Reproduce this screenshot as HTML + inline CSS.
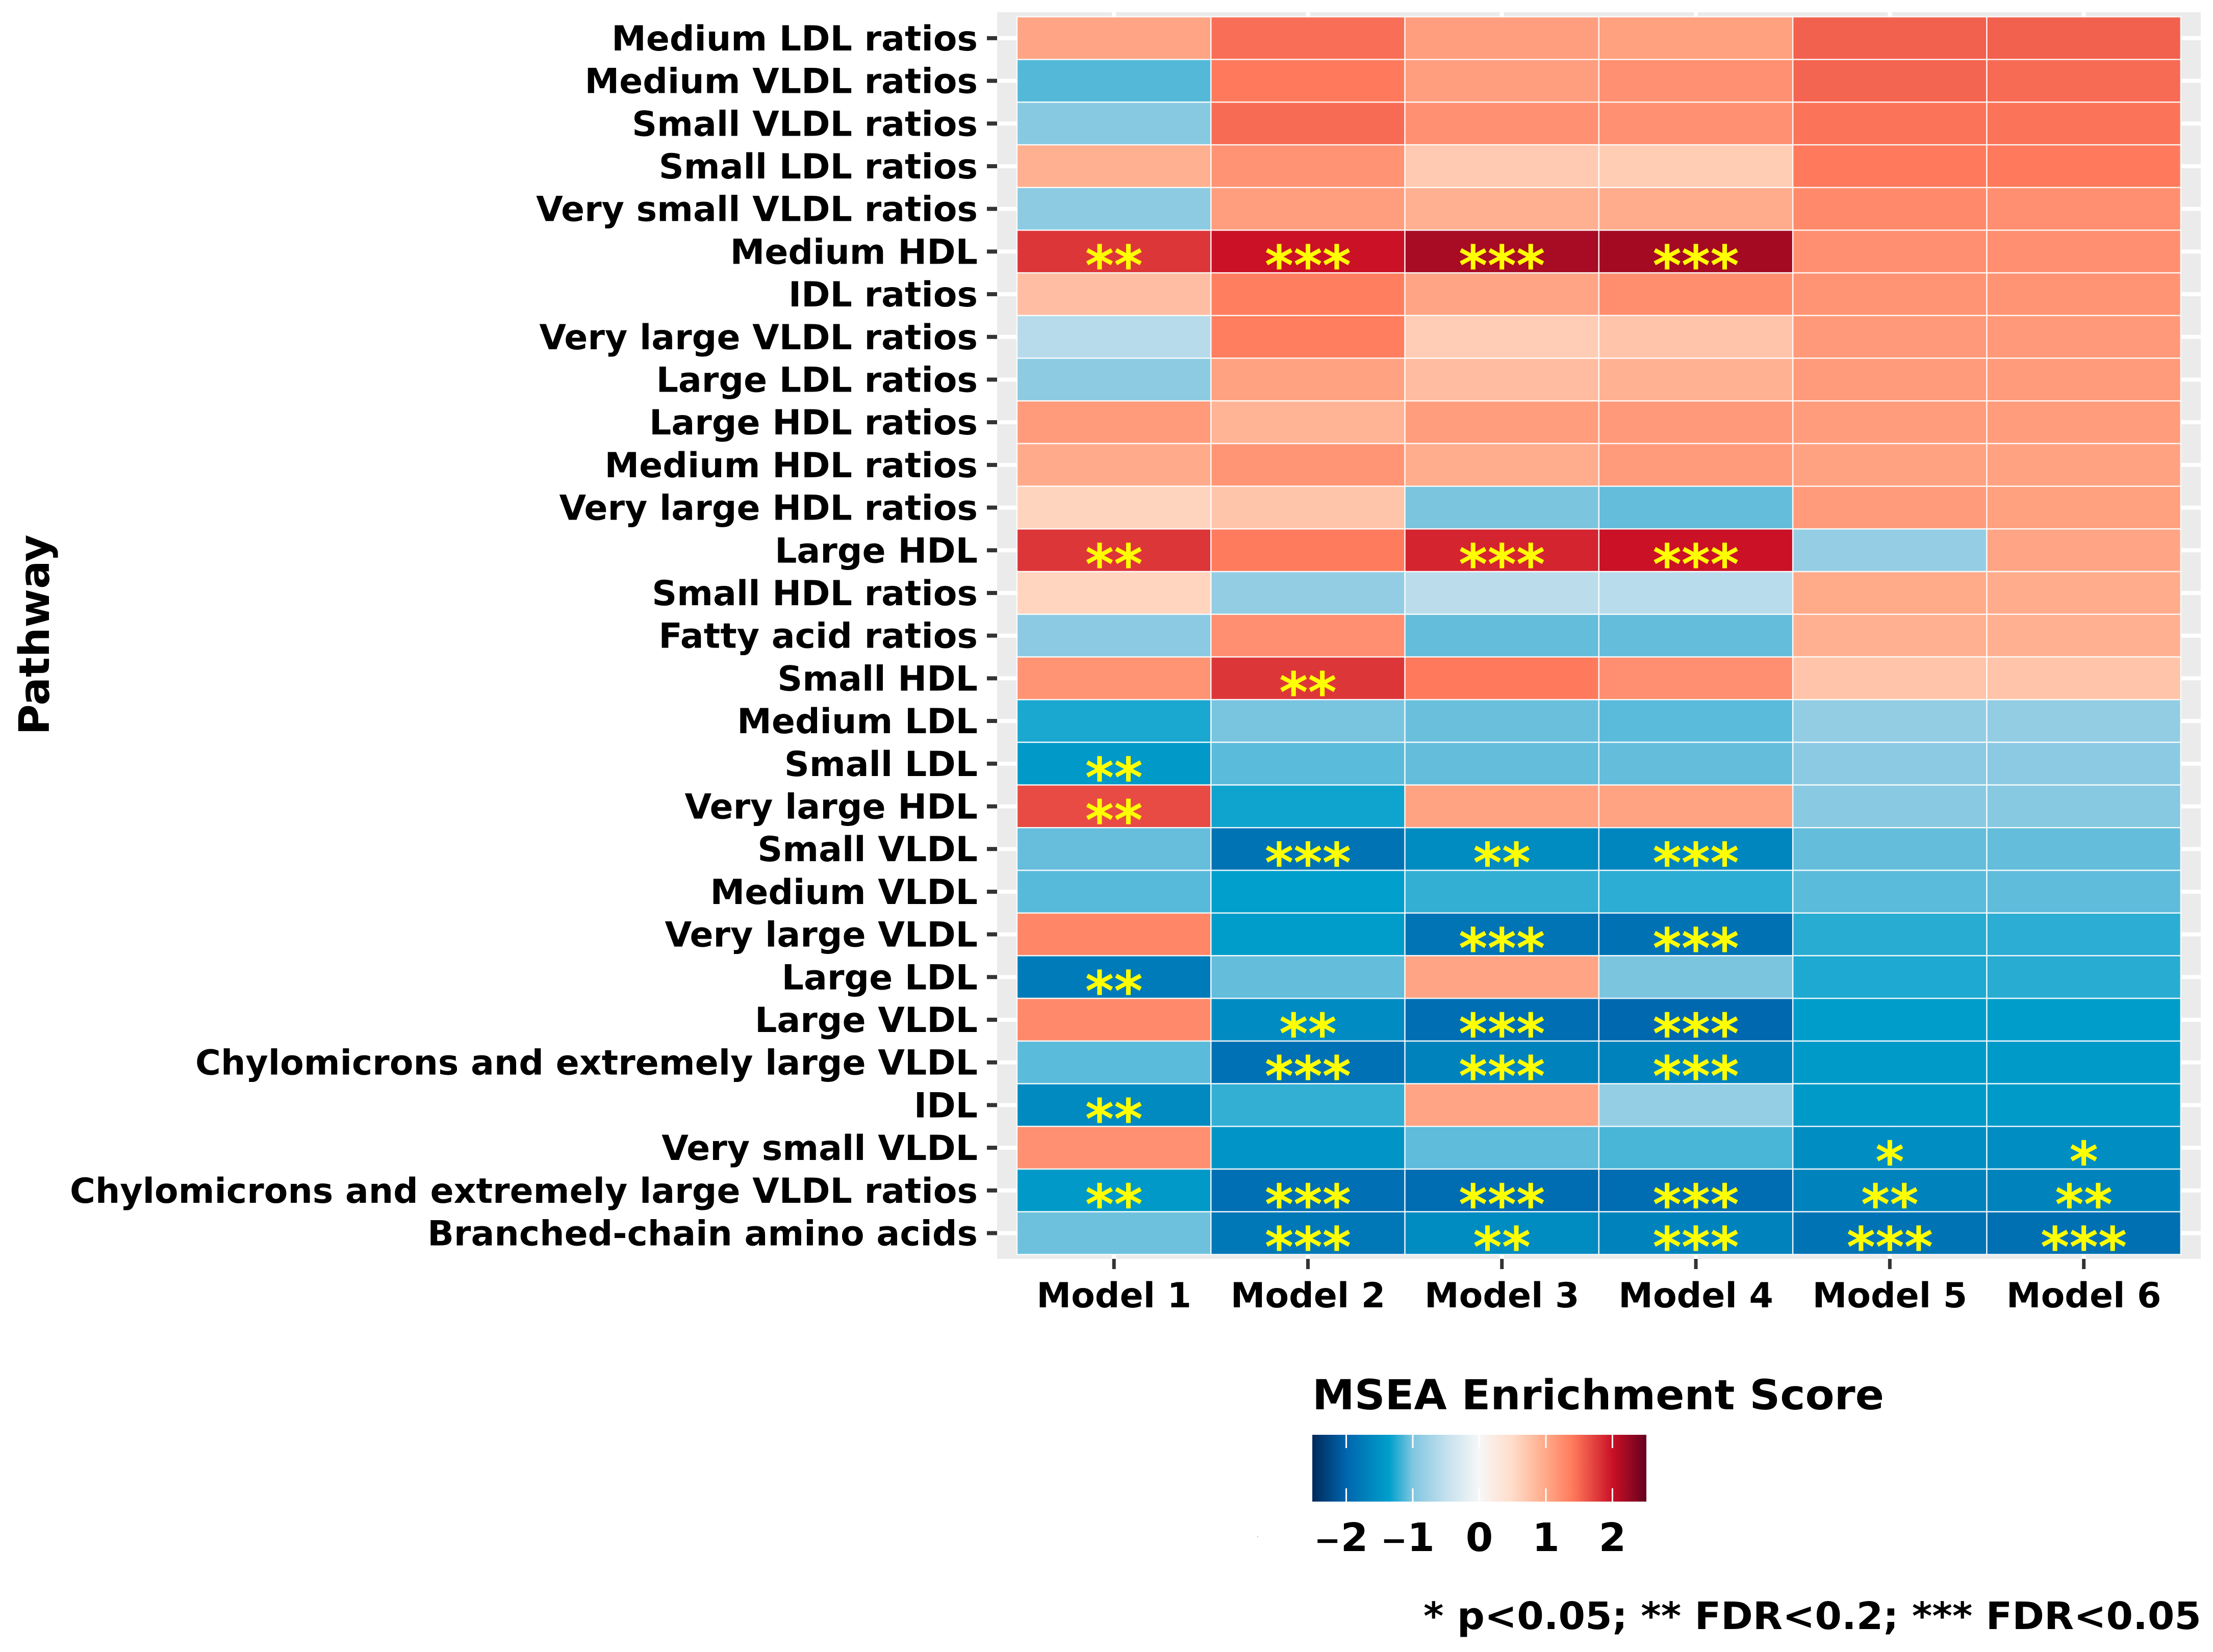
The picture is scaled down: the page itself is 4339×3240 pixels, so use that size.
<!DOCTYPE html>
<html lang="en">
<head>
<meta charset="utf-8">
<title>MSEA Enrichment Heatmap</title>
<style>
  html, body { margin: 0; padding: 0; background: #ffffff; }
  svg { display: block; }
  text { font-family: "DejaVu Sans", "Liberation Sans", sans-serif; font-weight: 700; fill: #000000; }
</style>
</head>
<body>
<svg id="chart" xmlns="http://www.w3.org/2000/svg" width="4339" height="3240" viewBox="0 0 4339 3240">
  <defs>
    <linearGradient id="legend-gradient" x1="0" y1="0" x2="1" y2="0"></linearGradient>
  </defs>
  <rect x="0" y="0" width="4339" height="3240" fill="#ffffff"/>
  <rect x="1955" y="24" width="2360" height="2445" fill="#ebebeb"/>
  <g id="grid"></g>
  <g id="cells"></g>
  <g id="stars"></g>
  <g id="y-axis"></g>
  <g id="x-axis"></g>
  <text transform="translate(96,1245) rotate(-90)" text-anchor="middle" font-size="82">Pathway</text>
  <g id="legend">
    <text x="2573" y="2764" font-size="81" textLength="1121" lengthAdjust="spacingAndGlyphs">MSEA Enrichment Score</text>
    <rect x="2573" y="2814" width="655" height="131" fill="url(#legend-gradient)"/>
  </g>
  <rect x="2465" y="3013" width="1.5" height="1.5" fill="#999999"/>
  <text x="4316" y="3195" text-anchor="end" font-size="74" textLength="1525" lengthAdjust="spacingAndGlyphs">* p&lt;0.05; ** FDR&lt;0.2; *** FDR&lt;0.05</text>
</svg>
<script>
const pathways = [
  "Medium LDL ratios", "Medium VLDL ratios", "Small VLDL ratios", "Small LDL ratios",
  "Very small VLDL ratios", "Medium HDL", "IDL ratios", "Very large VLDL ratios",
  "Large LDL ratios", "Large HDL ratios", "Medium HDL ratios", "Very large HDL ratios",
  "Large HDL", "Small HDL ratios", "Fatty acid ratios", "Small HDL", "Medium LDL",
  "Small LDL", "Very large HDL", "Small VLDL", "Medium VLDL", "Very large VLDL",
  "Large LDL", "Large VLDL", "Chylomicrons and extremely large VLDL", "IDL",
  "Very small VLDL", "Chylomicrons and extremely large VLDL ratios", "Branched-chain amino acids"
];
const models = ["Model 1", "Model 2", "Model 3", "Model 4", "Model 5", "Model 6"];
const enrichmentScores = [
  [1.03, 1.47, 1.09, 1.08, 1.55, 1.55],
  [-1.12, 1.40, 1.09, 1.21, 1.52, 1.49],
  [-0.94, 1.49, 1.21, 1.21, 1.44, 1.44],
  [0.93, 1.19, 0.68, 0.66, 1.40, 1.40],
  [-0.91, 1.09, 0.93, 0.97, 1.26, 1.22],
  [1.79, 2.00, 2.17, 2.19, 1.22, 1.22],
  [0.79, 1.37, 1.03, 1.23, 1.18, 1.18],
  [-0.59, 1.37, 0.65, 0.74, 1.14, 1.14],
  [-0.91, 1.06, 0.81, 0.92, 1.13, 1.13],
  [1.12, 0.89, 1.10, 1.14, 1.11, 1.11],
  [0.98, 1.17, 0.96, 1.12, 1.06, 1.06],
  [0.58, 0.73, -1.01, -1.08, 1.12, 1.08],
  [1.79, 1.39, 1.89, 2.00, -0.84, 1.03],
  [0.57, -0.86, -0.56, -0.58, 0.99, 0.97],
  [-0.92, 1.22, -1.08, -1.08, 0.93, 0.93],
  [1.18, 1.79, 1.40, 1.22, 0.74, 0.74],
  [-1.28, -1.02, -1.06, -1.10, -0.86, -0.86],
  [-1.43, -1.10, -1.08, -1.08, -0.92, -0.92],
  [1.67, -1.31, 1.05, 1.05, -0.93, -0.95],
  [-1.07, -1.85, -1.58, -1.64, -1.08, -1.08],
  [-1.11, -1.36, -1.21, -1.23, -1.10, -1.09],
  [1.29, -1.38, -1.84, -1.87, -1.24, -1.23],
  [-1.76, -1.08, 1.03, -1.01, -1.27, -1.24],
  [1.26, -1.57, -1.91, -1.98, -1.38, -1.38],
  [-1.10, -1.88, -1.68, -1.67, -1.42, -1.42],
  [-1.60, -1.21, 1.03, -0.85, -1.42, -1.42],
  [1.21, -1.47, -1.09, -1.15, -1.56, -1.56],
  [-1.43, -1.90, -1.93, -1.93, -1.69, -1.67],
  [-1.05, -1.80, -1.58, -1.67, -1.85, -1.89]
];
const significanceStars = [
  [0, 0, 0, 0, 0, 0],
  [0, 0, 0, 0, 0, 0],
  [0, 0, 0, 0, 0, 0],
  [0, 0, 0, 0, 0, 0],
  [0, 0, 0, 0, 0, 0],
  [2, 3, 3, 3, 0, 0],
  [0, 0, 0, 0, 0, 0],
  [0, 0, 0, 0, 0, 0],
  [0, 0, 0, 0, 0, 0],
  [0, 0, 0, 0, 0, 0],
  [0, 0, 0, 0, 0, 0],
  [0, 0, 0, 0, 0, 0],
  [2, 0, 3, 3, 0, 0],
  [0, 0, 0, 0, 0, 0],
  [0, 0, 0, 0, 0, 0],
  [0, 2, 0, 0, 0, 0],
  [0, 0, 0, 0, 0, 0],
  [2, 0, 0, 0, 0, 0],
  [2, 0, 0, 0, 0, 0],
  [0, 3, 2, 3, 0, 0],
  [0, 0, 0, 0, 0, 0],
  [0, 0, 3, 3, 0, 0],
  [2, 0, 0, 0, 0, 0],
  [0, 2, 3, 3, 0, 0],
  [0, 3, 3, 3, 0, 0],
  [2, 0, 0, 0, 0, 0],
  [0, 0, 0, 0, 1, 1],
  [2, 3, 3, 3, 2, 2],
  [0, 3, 2, 3, 3, 3]
];
const legendTicks = [-2, -1, 0, 1, 2];
const colorScaleValues = [-2.5, -2, -1.35, -1, -0.5, 0, 0.5, 1, 1.4, 2, 2.5];
const colorScaleColors = ["#002a5c", "#0066ae", "#00a0cc", "#80c6e0", "#c3e0ed", "#f7f7f7", "#ffdcc8", "#ffa988", "#ff7a5c", "#ca1126", "#67001f"];

const SVG_NS = "http://www.w3.org/2000/svg";
const cellLeft = 1994, cellWidth = 380.3, cellTop = 33, cellHeight = 83.7;
const legendLeft = 2573, legendWidth = 655, legendTop = 2814, legendHeight = 131;
const legendMin = -2.51, legendMax = 2.51;
const panelLeft = 1955, panelRight = 4315, panelTop = 24, panelBottom = 2469;

function xBand(i) { return cellLeft + cellWidth * i; }
function xCenter(i) { return xBand(i) + cellWidth / 2; }
function yBand(r) { return cellTop + cellHeight * r; }
function yCenter(r) { return yBand(r) + cellHeight / 2; }
function legendX(v) { return legendLeft + (v - legendMin) / (legendMax - legendMin) * legendWidth; }

function hexToRgb(h) {
  return [parseInt(h.slice(1, 3), 16), parseInt(h.slice(3, 5), 16), parseInt(h.slice(5, 7), 16)];
}
function colorFor(v) {
  const n = colorScaleValues.length;
  if (v <= colorScaleValues[0]) return colorScaleColors[0];
  if (v >= colorScaleValues[n - 1]) return colorScaleColors[n - 1];
  for (let k = 0; k < n - 1; k++) {
    if (v <= colorScaleValues[k + 1]) {
      const t = (v - colorScaleValues[k]) / (colorScaleValues[k + 1] - colorScaleValues[k]);
      const a = hexToRgb(colorScaleColors[k]);
      const b = hexToRgb(colorScaleColors[k + 1]);
      const mix = a.map((c, j) => Math.round(c + (b[j] - c) * t));
      return "rgb(" + mix.join(",") + ")";
    }
  }
  return colorScaleColors[n - 1];
}
function make(tag, attrs, parent) {
  const el = document.createElementNS(SVG_NS, tag);
  Object.keys(attrs).forEach(function (k) { el.setAttribute(k, attrs[k]); });
  parent.appendChild(el);
  return el;
}

const gridGroup = document.getElementById("grid");
const cellGroup = document.getElementById("cells");
const starGroup = document.getElementById("stars");
const yAxisGroup = document.getElementById("y-axis");
const xAxisGroup = document.getElementById("x-axis");
const legendGroup = document.getElementById("legend");
const gradient = document.getElementById("legend-gradient");

colorScaleValues.forEach(function (v, k) {
  const off = (legendX(v) - legendLeft) / legendWidth * 100;
  make("stop", { offset: Math.max(0, Math.min(100, off)) + "%", "stop-color": colorScaleColors[k] }, gradient);
});

pathways.forEach(function (name, r) {
  const gridLine = make("line", { x1: panelLeft, x2: panelRight, y1: yCenter(r), y2: yCenter(r), stroke: "#ffffff", "stroke-width": 8 }, gridGroup);
  
  

  const tick = make("line", { x1: 1935, x2: panelLeft, y1: yCenter(r), y2: yCenter(r), stroke: "#333333", "stroke-width": 8 }, yAxisGroup);
  
  

  const label = make("text", { x: 1917, y: yCenter(r) + 24, "text-anchor": "end", "font-size": 68 }, yAxisGroup);
  
  
  label.textContent = name;
});

models.forEach(function (name, i) {
  const gridLine = make("line", { x1: xCenter(i), x2: xCenter(i), y1: panelTop, y2: panelBottom, stroke: "#ffffff", "stroke-width": 8 }, gridGroup);
  
  

  const tick = make("line", { x1: xCenter(i), x2: xCenter(i), y1: panelBottom, y2: panelBottom + 20, stroke: "#333333", "stroke-width": 7 }, xAxisGroup);
  
  

  const label = make("text", { x: xCenter(i), y: 2564, "text-anchor": "middle", "font-size": 68 }, xAxisGroup);
  
  
  label.textContent = name;
});

enrichmentScores.forEach(function (row, r) {
  row.forEach(function (value, i) {
    const cell = make("rect", { x: xBand(i), y: yBand(r), width: cellWidth, height: cellHeight, fill: colorFor(value), stroke: "#ffffff", "stroke-width": 2.5, "stroke-opacity": 0.85 }, cellGroup);
    
    
    const count = significanceStars[r][i];
    if (count > 0) {
      const star = make("text", { x: xCenter(i), y: yCenter(r) + 65, "text-anchor": "middle", "font-size": 108 }, starGroup);
      star.style.fill = "#ffff00";
      
      
      star.textContent = "*".repeat(count);
    }
  });
});

legendTicks.forEach(function (v) {
  const x = legendX(v);
  const topTick = make("line", { x1: x, x2: x, y1: legendTop, y2: legendTop + 26, stroke: "#ffffff", "stroke-width": 3 }, legendGroup);
  
  

  const bottomTick = make("line", { x1: x, x2: x, y1: legendTop + legendHeight - 26, y2: legendTop + legendHeight, stroke: "#ffffff", "stroke-width": 3 }, legendGroup);
  
  

  const label = make("text", { x: v < 0 ? x - 10 : x, y: 3042, "text-anchor": "middle", "font-size": 77 }, legendGroup);
  
  
  if (v < 0) {
    const minus = make("tspan", { "font-size": 62 }, label);
    minus.textContent = "\u2212";
  }
  label.appendChild(document.createTextNode(String(Math.abs(v))));
});
</script>
</body>
</html>
